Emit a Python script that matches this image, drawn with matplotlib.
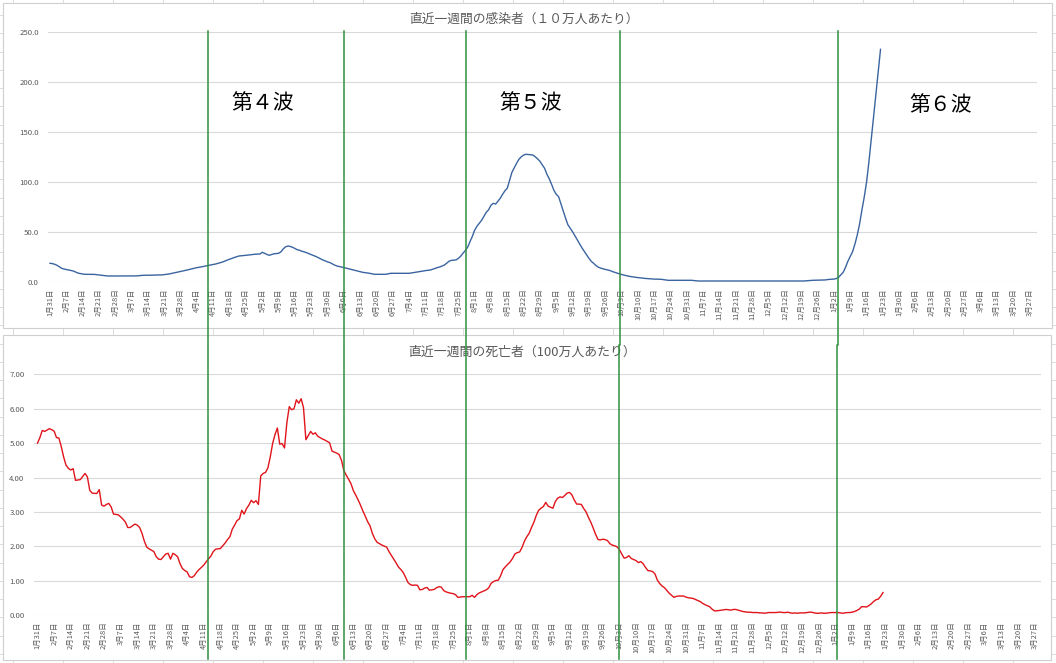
import matplotlib
matplotlib.use('Agg')
import matplotlib.pyplot as plt
from matplotlib.lines import Line2D
from matplotlib.patches import Rectangle
import pandas as pd

plt.rcParams['font.family'] = ['Noto Sans CJK JP', 'DejaVu Sans']

W, H = 1056, 663
START = '2021-01-31'
TICK_END = '2022-03-27'

infection_title = '直近一週間の感染者（１０万人あたり）'
death_title = '直近一週間の死亡者（100万人あたり）'
wave_labels = ['第４波', '第５波', '第６波']

# weekly new infections per 100k (daily, from 2021-01-31)
infections = [
    19.0, 18.7, 18.0, 17.0, 15.5, 14.0, 13.3, 12.8, 12.3, 11.8,
    11.3, 10.2, 9.2, 8.7, 8.3, 8.0, 8.0, 8.0, 8.0, 7.9,
    7.6, 7.3, 7.0, 6.8, 6.5, 6.3, 6.3, 6.3, 6.3, 6.3,
    6.3, 6.3, 6.3, 6.3, 6.3, 6.3, 6.3, 6.4, 6.6, 6.8,
    7.0, 7.0, 7.1, 7.1, 7.2, 7.2, 7.3, 7.3, 7.4, 7.7,
    8.0, 8.3, 8.8, 9.2, 9.7, 10.2, 10.8, 11.3, 11.8, 12.4,
    13.0, 13.5, 14.1, 14.7, 15.0, 15.5, 16.0, 16.4, 17.0, 17.4,
    17.8, 18.3, 19.0, 19.7, 20.3, 21.3, 22.2, 23.1, 24.0, 24.8,
    25.5, 26.3, 26.5, 26.8, 27.0, 27.3, 27.7, 28.0, 28.1, 28.2,
    28.3, 30.0, 29.0, 27.8, 27.0, 27.8, 28.5, 28.8, 29.0, 30.5,
    33.5, 35.5, 36.3, 35.8, 35.0, 33.8, 32.6, 32.0, 31.0, 30.4,
    29.6, 28.6, 27.7, 26.7, 25.8, 24.6, 23.4, 22.3, 21.3, 20.4,
    19.7, 18.5, 17.2, 16.3, 15.8, 15.2, 14.7, 14.1, 13.5, 13.0,
    12.4, 11.8, 11.2, 10.6, 10.0, 9.7, 9.3, 9.0, 8.5, 8.0,
    8.0, 8.0, 8.0, 8.0, 8.0, 8.5, 9.0, 9.0, 9.0, 9.0,
    9.0, 9.0, 9.0, 9.0, 9.0, 9.4, 9.7, 10.2, 10.7, 11.0,
    11.3, 11.7, 12.0, 12.3, 13.0, 13.8, 14.7, 15.3, 16.2, 17.2,
    19.0, 21.0, 21.9, 22.1, 22.4, 23.8, 26.0, 29.0, 31.7, 35.0,
    40.5, 45.7, 52.0, 56.0, 59.0, 62.0, 66.0, 70.0, 72.5, 77.0,
    79.0, 78.3, 81.0, 84.0, 88.0, 91.5, 94.0, 102.0, 110.0, 114.5,
    119.0, 123.0, 125.5, 127.2, 128.0, 127.8, 127.5, 127.3, 125.5, 123.5,
    121.0, 117.5, 114.0, 108.0, 103.5, 98.0, 92.0, 88.0, 85.7, 78.5,
    71.5, 64.0, 57.5, 54.0, 50.5, 46.5, 42.5, 38.5, 34.5, 31.0,
    27.5, 24.0, 21.0, 19.0, 16.8, 15.2, 14.2, 13.5, 12.9, 12.4,
    11.8, 10.8, 10.0, 9.2, 8.5, 7.8, 7.2, 6.6, 6.1, 5.7,
    5.3, 5.0, 4.7, 4.4, 4.1, 3.9, 3.7, 3.5, 3.3, 3.2,
    3.1, 3.0, 3.0, 2.6, 2.3, 2.0, 2.0, 2.0, 2.0, 2.0,
    2.0, 2.0, 2.0, 2.0, 2.0, 2.0, 1.7, 1.5, 1.3, 1.3,
    1.3, 1.3, 1.3, 1.3, 1.3, 1.3, 1.3, 1.3, 1.3, 1.3,
    1.3, 1.3, 1.3, 1.3, 1.3, 1.3, 1.3, 1.3, 1.3, 1.3,
    1.2, 1.2, 1.2, 1.2, 1.2, 1.2, 1.2, 1.2, 1.2, 1.2,
    1.2, 1.2, 1.2, 1.2, 1.2, 1.2, 1.2, 1.2, 1.2, 1.2,
    1.3, 1.3, 1.3, 1.3, 1.5, 1.8, 2.0, 2.0, 2.1, 2.1,
    2.2, 2.2, 2.3, 2.6, 2.9, 3.0, 3.2, 3.7, 5.0, 7.5,
    10.0, 15.0, 21.0, 25.7, 30.5, 38.0, 47.0, 58.0, 72.0, 85.0,
    100.0, 120.0, 142.0, 165.0, 188.0, 212.0, 233.0,
]

# weekly deaths per 1M (daily, from 2021-01-31)
deaths = [
    5.00, 5.16, 5.37, 5.34, 5.38, 5.42, 5.39, 5.35, 5.16, 5.15,
    4.90, 4.60, 4.36, 4.27, 4.22, 4.26, 3.92, 3.93, 3.94, 4.03,
    4.12, 4.02, 3.63, 3.55, 3.54, 3.54, 3.65, 3.20, 3.17, 3.22,
    3.25, 3.15, 2.94, 2.93, 2.92, 2.86, 2.79, 2.71, 2.55, 2.55,
    2.60, 2.65, 2.62, 2.55, 2.38, 2.15, 1.98, 1.93, 1.89,
    1.85, 1.70, 1.63, 1.62, 1.70, 1.78, 1.80, 1.63, 1.80, 1.76,
    1.70, 1.50, 1.36, 1.30, 1.26, 1.12, 1.10, 1.15, 1.25, 1.33,
    1.39, 1.46, 1.55, 1.64, 1.72, 1.85, 1.92, 1.93, 1.94, 2.02,
    2.10, 2.20, 2.28, 2.50, 2.62, 2.75, 2.80, 3.05, 2.94, 3.10,
    3.20, 3.34, 3.27, 3.33, 3.22, 4.05, 4.12, 4.15, 4.28, 4.60,
    4.99, 5.25, 5.44, 4.97, 4.99, 4.86, 5.60, 6.06, 5.97, 6.00,
    6.26, 6.16, 6.29, 6.03, 5.10, 5.22, 5.34, 5.26, 5.30, 5.20,
    5.16, 5.12, 5.09, 5.05, 5.01, 4.77, 4.74, 4.71, 4.67, 4.50,
    4.20, 4.07, 3.95, 3.82, 3.62, 3.49, 3.35, 3.20, 3.03, 2.88,
    2.72, 2.60, 2.38, 2.22, 2.12, 2.08, 2.04, 2.01, 1.98, 1.85,
    1.74, 1.63, 1.52, 1.40, 1.33, 1.24, 1.10, 0.95, 0.89, 0.87,
    0.88, 0.87, 0.74, 0.75, 0.79, 0.81, 0.73, 0.74, 0.75, 0.80,
    0.83, 0.82, 0.72, 0.68, 0.66, 0.64, 0.63, 0.60, 0.52, 0.53,
    0.54, 0.54, 0.54, 0.54, 0.58, 0.52, 0.60, 0.65, 0.68,
    0.71, 0.74, 0.80, 0.93, 0.98, 1.01, 1.02, 1.15, 1.33, 1.41,
    1.48, 1.55, 1.65, 1.78, 1.82, 1.84, 1.97, 2.15, 2.28, 2.38,
    2.55, 2.70, 2.90, 3.05, 3.11, 3.16, 3.28, 3.17, 3.14, 3.11,
    3.30, 3.40, 3.44, 3.42, 3.48, 3.55, 3.57, 3.50, 3.35, 3.23,
    3.23, 3.22, 3.10, 3.00, 2.84, 2.70, 2.53, 2.35, 2.20, 2.19,
    2.21, 2.20, 2.17, 2.08, 2.04, 2.02, 1.99, 1.91, 1.78, 1.66,
    1.68, 1.73, 1.65, 1.62, 1.59, 1.53, 1.56, 1.50, 1.39, 1.30,
    1.29, 1.27, 1.20, 1.02, 0.92, 0.85, 0.80, 0.72, 0.64, 0.58,
    0.52, 0.55, 0.56, 0.56, 0.56, 0.53, 0.51, 0.50, 0.49, 0.46,
    0.43, 0.40, 0.35, 0.31, 0.28, 0.25, 0.18, 0.13, 0.13, 0.14,
    0.15, 0.16, 0.17, 0.16, 0.15, 0.17, 0.17, 0.15, 0.13, 0.11,
    0.10, 0.09, 0.09, 0.08, 0.08, 0.08, 0.07, 0.07, 0.06, 0.07,
    0.08, 0.08, 0.08, 0.08, 0.09, 0.09, 0.08, 0.08, 0.09, 0.07,
    0.06, 0.07, 0.06, 0.07, 0.07, 0.07, 0.08, 0.09, 0.09, 0.07,
    0.06, 0.06, 0.07, 0.06, 0.06, 0.07, 0.08, 0.08, 0.08, 0.08,
    0.07, 0.06, 0.07, 0.08, 0.08, 0.09, 0.11, 0.14, 0.18, 0.25,
    0.25, 0.24, 0.28, 0.33, 0.40, 0.45, 0.47, 0.55, 0.66,
]

top_yticks = [0, 50, 100, 150, 200, 250]
bottom_yticks = [0, 1, 2, 3, 4, 5, 6, 7]

GRAY_TXT = '#595959'
GRID = '#d9d9d9'
GREEN = '#2f8f3f'

fig = plt.figure(figsize=(W / 100, H / 100), dpi=100)


def fx(px):
    return px / W


def fy(py):
    return 1 - py / H


# spreadsheet cell lines in the background
for k in range(22):
    xx = 12.5 + 50 * k
    fig.add_artist(Line2D([fx(xx), fx(xx)], [0, 1], transform=fig.transFigure,
                          color='#dcdcdc', lw=0.7, zorder=0.2))
for k in range(37):
    yy = 15 + 18.25 * k
    fig.add_artist(Line2D([0, 1], [fy(yy), fy(yy)], transform=fig.transFigure,
                          color='#dcdcdc', lw=0.7, zorder=0.2))

# chart frames
for (x0, y0, x1, y1) in [(3, 3, 1052, 328), (3, 335, 1051, 660)]:
    fig.add_artist(Rectangle((fx(x0), fy(y1)), (x1 - x0) / W, (y1 - y0) / H,
                             transform=fig.transFigure, facecolor='white',
                             edgecolor='#cfcfcf', lw=0.8, zorder=1))

start = pd.Timestamp(START)
tick_dates = pd.date_range(START, TICK_END, freq='7D')
tick_labels = [f'{d.month}月{d.day}日' for d in tick_dates]


def style_axis(ax, yticks, fmt, ypad, xlim_days):
    ax.set_facecolor('none')
    ax.set_zorder(3)
    for s in ax.spines.values():
        s.set_visible(False)
    ax.set_yticks(yticks)
    ax.set_yticklabels([fmt.format(v) for v in yticks])
    ax.set_ylim(yticks[0], yticks[-1])
    ax.set_xticks(tick_dates)
    ax.set_xticklabels(tick_labels, rotation=90, va='top', ha='center')
    ax.set_xlim(start + pd.Timedelta(days=xlim_days[0]),
                start + pd.Timedelta(days=xlim_days[1]))
    ax.yaxis.grid(True, color=GRID, lw=0.8)
    ax.set_axisbelow(True)
    ax.tick_params(axis='both', length=0, colors=GRAY_TXT)
    ax.tick_params(axis='y', labelsize=5.6, pad=ypad)
    ax.tick_params(axis='x', labelsize=5.4, pad=4.3)


# top chart: infections
ax1 = fig.add_axes([48 / W, fy(282.3), (1037.3 - 48) / W, 250 / H])
dates_inf = pd.date_range(START, periods=len(infections), freq='D')
ax1.plot(dates_inf, infections, color='#3a64a0', lw=1.0)
style_axis(ax1, top_yticks, '{:.1f}', 6.5, (-0.86, 423.2))

# bottom chart: deaths
ax2 = fig.add_axes([34.3 / W, fy(615.3), (1040.7 - 34.3) / W, 241 / H])
dates_dth = pd.date_range(START, periods=len(deaths), freq='D')
ax2.plot(dates_dth, deaths, color='#e0141a', lw=1.0)
style_axis(ax2, bottom_yticks, '{:.2f}', 7.0, (-1.35, 422.4))

# titles
fig.text(fx(524), fy(19.3), infection_title, ha='center', va='center',
         fontsize=9.2, color=GRAY_TXT, zorder=4)
fig.text(fx(522), fy(352), death_title, ha='center', va='center',
         fontsize=9.3, color=GRAY_TXT, zorder=4)

# wave labels
for lbl, (px, py) in zip(wave_labels, [(263, 103.3), (530.5, 103.3), (940.5, 105)]):
    fig.text(fx(px), fy(py), lbl, ha='center', va='center', fontsize=15,
             color='black', zorder=6)

# hand-drawn green separators spanning both charts
top_x = [208.2, 344.4, 466.4, 620.3, 838.3]
bot_x = [208.3, 344.3, 466.3, 619.3, 837.3]
for xt, xb in zip(top_x, bot_x):
    fig.add_artist(Line2D([fx(xt), fx(xt), fx(xb), fx(xb)],
                          [fy(30.5), fy(345), fy(345), fy(659)],
                          transform=fig.transFigure, color=GREEN, lw=1.1, zorder=5))

fig.savefig('out.png', dpi=100, facecolor='white')
